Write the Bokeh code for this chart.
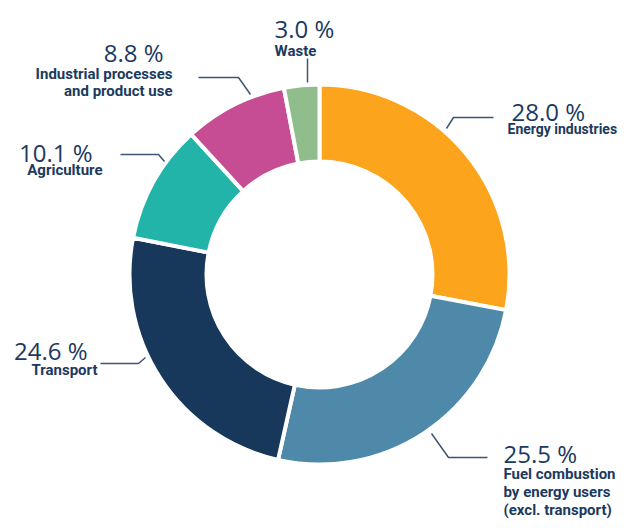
import math
from bokeh.plotting import figure
from bokeh.models import Range1d, ColumnDataSource
from bokeh.core.properties import value
from bokeh.embed import file_html
from bokeh.resources import INLINE

# ---- data ----
categories = ["Energy industries", "Fuel combustion by energy users (excl. transport)",
              "Transport", "Agriculture", "Industrial processes and product use", "Waste"]
shares = [28.0, 25.5, 24.6, 10.1, 8.8, 3.0]
pct_labels = ["28.0 %", "25.5 %", "24.6 %", "10.1 %", "8.8 %", "3.0 %"]
name_lines = [["Energy industries"],
              ["Fuel combustion", "by energy users", "(excl. transport)"],
              ["Transport"],
              ["Agriculture"],
              ["Industrial processes", "and product use"],
              ["Waste"]]
colors = ["#FBA41C", "#4F89AA", "#17375B", "#22B3A9", "#C64D93", "#8FBD8B"]

# ---- layout (picture pixel coords) ----
W, H = 624, 520
def X(px): return px
def Y(py): return H - py

CX, CY = 319, 274
R_OUT, R_IN = 190, 113
TEXT_COLOR = "#1C3A5E"
LINE_COLOR = "#3D5675"

pct_pos = [(511, 111, "left"), (503, 453, "left"), (87, 350, "right"),
           (92, 152, "right"), (163, 52, "right"), (304, 28, "center")]
name_pos = [(507, 128, 0, "left"), (503, 473, 18, "left"), (97, 369, 0, "right"),
            (102, 169, 0, "right"), (172, 73, 17, "right"), (295, 50, 0, "center")]
name_sizes = ["14px", "15px", "15px", "15px", "15px", "15px"]
leaders = [[(446, 128), (453, 117), (493, 117)],
           [(431, 433), (448, 457), (487, 457)],
           [(100, 363), (138, 363), (145, 357)],
           [(120, 154), (158, 154), (164, 161)],
           [(198, 77), (238, 77), (250, 94)],
           [(307, 58), (307, 82)]]

p = figure(width=W, height=H, output_backend="svg", toolbar_location=None,
           x_range=Range1d(0, W), y_range=Range1d(0, H), min_border=0)
p.axis.visible = False
p.grid.visible = False
p.outline_line_color = None
p.background_fill_color = "white"

total = sum(shares)
starts, ends = [], []
cum = 0.0
for s in shares:
    starts.append(math.radians(90 - cum / total * 360))
    cum += s
    ends.append(math.radians(90 - cum / total * 360))

src = ColumnDataSource(dict(start=starts, end=ends, color=colors, name=categories))
p.annular_wedge(x=X(CX), y=Y(CY), inner_radius=R_IN, outer_radius=R_OUT,
                start_angle="start", end_angle="end", direction="clock",
                fill_color="color", line_color="white", line_width=4, source=src)

for pts in leaders:
    p.line([X(a) for a, b in pts], [Y(b) for a, b in pts],
           line_color=LINE_COLOR, line_width=1.5)

pct_font = value("Open Sans, sans-serif")
name_font = value("Roboto, sans-serif")

for i in range(len(shares)):
    x, yb, al = pct_pos[i]
    p.text(x=[X(x)], y=[Y(yb)], text=[pct_labels[i]], text_align=al,
           text_baseline="alphabetic", text_font=pct_font, text_font_size="24px",
           text_color=TEXT_COLOR)
    nx, ny, step, nal = name_pos[i]
    for j, line in enumerate(name_lines[i]):
        p.text(x=[X(nx)], y=[Y(ny + j * step)], text=[line], text_align=nal,
               text_baseline="alphabetic", text_font=name_font,
               text_font_size=name_sizes[i],
               text_font_style="bold", text_color=TEXT_COLOR)

open("out.html", "w").write(file_html(p, INLINE))
